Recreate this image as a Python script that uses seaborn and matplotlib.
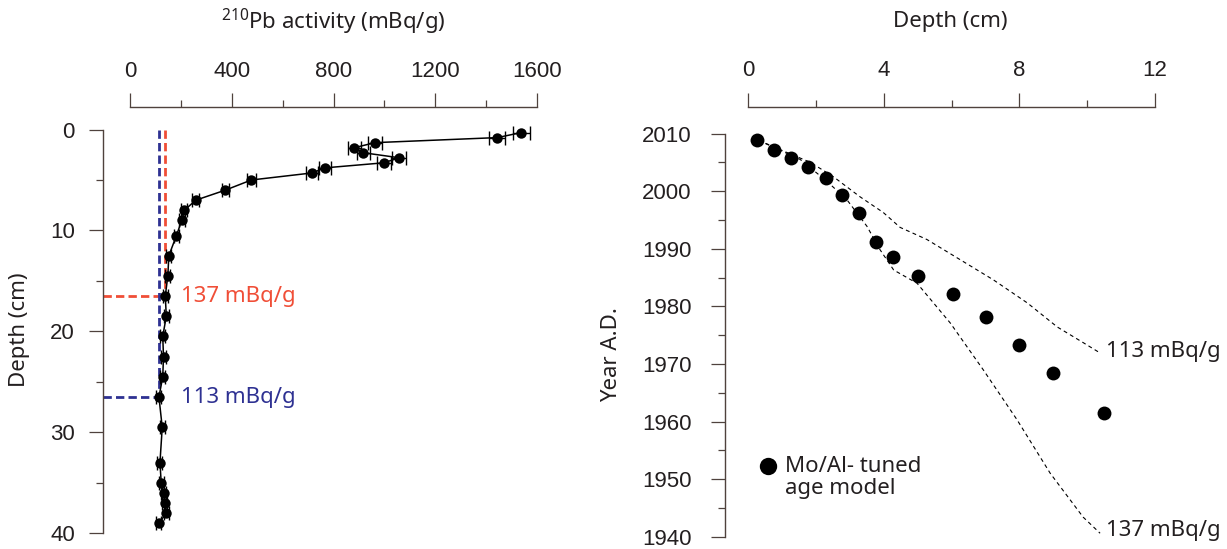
import numpy as np
import pandas as pd
import matplotlib
matplotlib.use("Agg")
import matplotlib.pyplot as plt
import seaborn as sns
from matplotlib.ticker import MultipleLocator

# ---------------- data ----------------
depth_cm = [0.3, 0.8, 1.3, 1.8, 2.3, 2.8, 3.3, 3.8, 4.3, 5.0, 6.0, 7.0, 8.0, 9.0, 10.5,
            12.5, 14.5, 16.5, 18.5, 20.5, 22.5, 24.5, 26.5, 29.5, 33.0, 35.0, 36.0, 37.0, 38.0, 39.0]
pb210_activity = [1540, 1445, 963, 882, 917, 1059, 997, 765, 716, 476, 374, 257, 212, 202, 181,
                  151, 147, 137, 141, 127, 130, 127, 112, 125, 116, 121, 131, 134, 141, 112]
pb210_error = [33, 32, 26, 26, 25, 28, 28, 24, 24, 17, 15, 13, 12, 12, 11,
               10, 10, 10, 10, 10, 10, 10, 10, 10, 10, 10, 10, 10, 10, 10]

threshold_values = [137, 113]
threshold_depths = [16.5, 26.5]
threshold_labels = ["137 mBq/g", "113 mBq/g"]

tuned_depth = [0.27, 0.76, 1.26, 1.77, 2.28, 2.76, 3.27, 3.77, 4.27, 5.02, 6.03, 7.01, 8.0, 9.0, 10.5]
tuned_year = [2008.8, 2007.2, 2005.7, 2004.2, 2002.2, 1999.3, 1996.2, 1991.2, 1988.6,
              1985.2, 1982.1, 1978.1, 1973.3, 1968.5, 1961.4]

cic113_depth = [0.12, 0.94, 1.83, 2.51, 3.30, 3.98, 4.48, 5.27, 6.25, 7.23, 8.23, 9.12, 9.88, 10.38]
cic113_year = [2009.3, 2007.2, 2005.0, 2002.5, 1999.0, 1996.3, 1993.7, 1991.6, 1988.1,
               1984.6, 1980.6, 1976.4, 1973.7, 1971.9]
cic137_depth = [0.12, 1.53, 2.32, 2.91, 3.50, 3.89, 4.29, 4.98, 5.96, 6.93, 7.93, 8.91, 9.88, 10.38]
cic137_year = [2009.3, 2005.5, 2001.7, 1998.5, 1993.9, 1989.8, 1986.3, 1984.0, 1977.1,
               1969.0, 1960.3, 1951.0, 1943.4, 1940.6]

legend_lines = ["Mo/Al- tuned", "age model"]

# ---------------- style ----------------
sns.set_style("white")
plt.rcParams['font.family'] = ['Liberation Sans', 'DejaVu Sans']
plt.rcParams['mathtext.fontset'] = 'custom'
plt.rcParams['mathtext.rm'] = 'Noto Sans'
LABEL_FONT = ['Noto Sans', 'DejaVu Sans']
AXC = '#4f423d'
TXT = '#231f20'
RED = '#F04E37'
BLUE = '#2E3192'
FS = 16

fig = plt.figure(figsize=(12.27, 5.49), dpi=100)
W, H = 1227, 549

def px_axes(left, top, right, bottom):
    return fig.add_axes([left / W, 1 - bottom / H, (right - left) / W, (bottom - top) / H])

ax1 = px_axes(102.7, 106.7, 536.7, 540)
ax2 = px_axes(725, 106.5, 1160, 545)

def style(ax, xb, yb, ypad):
    ax.set_facecolor('none')
    for s in ['right', 'bottom']:
        ax.spines[s].set_visible(False)
    for s in ['top', 'left']:
        ax.spines[s].set_color(AXC)
        ax.spines[s].set_linewidth(1.0)
    ax.spines['top'].set_bounds(*xb)
    ax.spines['left'].set_bounds(*yb)
    ax.xaxis.tick_top()
    ax.xaxis.set_label_position('top')
    ax.tick_params(which='both', top=True, left=True, bottom=False, right=False,
                   labeltop=True, labelleft=True, labelbottom=False)
    ax.tick_params(which='major', direction='out', length=10, width=0.9, color=AXC,
                   labelsize=FS, labelcolor=TXT)
    ax.tick_params(which='minor', direction='out', length=5, width=0.9, color=AXC)
    ax.tick_params(axis='x', which='major', pad=8)
    ax.tick_params(axis='y', which='major', pad=ypad)
    ax.grid(False)

# ---------------- left panel ----------------
ax1.errorbar(pb210_activity, depth_cm, xerr=pb210_error, fmt='none', ecolor='black',
             elinewidth=1.0, capsize=5, capthick=1.0, zorder=3)
sns.lineplot(x=pb210_activity, y=depth_cm, sort=False, estimator=None, color='black',
             linewidth=1.1, marker='o', markersize=7.5, markeredgewidth=0, ax=ax1, zorder=4)

for val, dep, lab, col in zip(threshold_values, threshold_depths, threshold_labels, [RED, BLUE]):
    ax1.plot([val, val], [0, dep], color=col, lw=2.0, ls=(0, (3, 1.5)), zorder=2)
    ax1.plot([-109.5, val], [dep, dep], color=col, lw=2.0, ls=(0, (3, 1.5)), zorder=2,
             clip_on=False)
    ax1.text(198, dep, lab, color=col, fontsize=FS, family=LABEL_FONT, va='center', ha='left')

ax1.set_xlim(-109.5, 1600)
ax1.set_ylim(40.66, -2.26)
style(ax1, (0, 1600), (0, 40), 10)
ax1.xaxis.set_major_locator(MultipleLocator(400))
ax1.xaxis.set_minor_locator(MultipleLocator(200))
ax1.yaxis.set_major_locator(MultipleLocator(10))
ax1.yaxis.set_minor_locator(MultipleLocator(5))
ax1.set_xlabel(r'$\mathregular{^{210}}$Pb activity (mBq/g)', fontsize=FS, family=LABEL_FONT, color=TXT)
ax1.set_ylabel('Depth (cm)', fontsize=FS, family=LABEL_FONT, color=TXT)
ax1.xaxis.set_label_coords((333 - 102.7) / 434, (540 - 22) / 433.3)
ax1.xaxis.label.set_verticalalignment('center')
ax1.yaxis.set_label_coords((20 - 102.7) / 434, (540 - 330) / 433.3)
ax1.yaxis.label.set_verticalalignment('center')

# ---------------- right panel ----------------
sns.lineplot(x=cic113_depth, y=cic113_year, sort=False, estimator=None, color='black',
             linewidth=0.8, linestyle=(0, (3.5, 3)), ax=ax2, zorder=2)
sns.lineplot(x=cic137_depth, y=cic137_year, sort=False, estimator=None, color='black',
             linewidth=0.8, linestyle=(0, (3.5, 3)), ax=ax2, zorder=2)
sns.scatterplot(x=tuned_depth, y=tuned_year, s=100, color='black', linewidth=0, ax=ax2,
                zorder=3, label=legend_lines[0])

ax2.text(10.55, 1972.1, '113 mBq/g', fontsize=FS, family=LABEL_FONT, color=TXT,
         va='center', ha='left', clip_on=False)
ax2.text(10.55, 1941.0, '137 mBq/g', fontsize=FS, family=LABEL_FONT, color=TXT,
         va='center', ha='left', clip_on=False)

ax2.set_xlim(-0.6875, 12.148)
ax2.set_ylim(1938.56, 2014.69)
style(ax2, (0, 12), (1940, 2010), 14)
ax2.xaxis.set_major_locator(MultipleLocator(4))
ax2.xaxis.set_minor_locator(MultipleLocator(2))
ax2.yaxis.set_major_locator(MultipleLocator(10))
ax2.yaxis.set_minor_locator(MultipleLocator(5))
ax2.set_xlabel('Depth (cm)', fontsize=FS, family=LABEL_FONT, color=TXT)
ax2.set_ylabel('Year A.D.', fontsize=FS, family=LABEL_FONT, color=TXT)
ax2.xaxis.set_label_coords((950 - 725) / 435, (545 - 22) / 438.5)
ax2.xaxis.label.set_verticalalignment('center')
ax2.yaxis.set_label_coords((612 - 725) / 435, (545 - 355) / 438.5)
ax2.yaxis.label.set_verticalalignment('center')

leg = ax2.legend(loc='center left', bbox_to_anchor=((757 - 725) / 435, (545 - 466) / 438.5),
                 frameon=False, handlelength=1.0, handletextpad=0.25, borderpad=0,
                 borderaxespad=0, prop={'family': LABEL_FONT, 'size': FS}, markerscale=1.25)
for t in leg.get_texts():
    t.set_color(TXT)
ax2.text(1.08, 1948.3, legend_lines[1], fontsize=FS, family=LABEL_FONT, color=TXT,
         va='center', ha='left')

fig.savefig('out.png', dpi=100)
